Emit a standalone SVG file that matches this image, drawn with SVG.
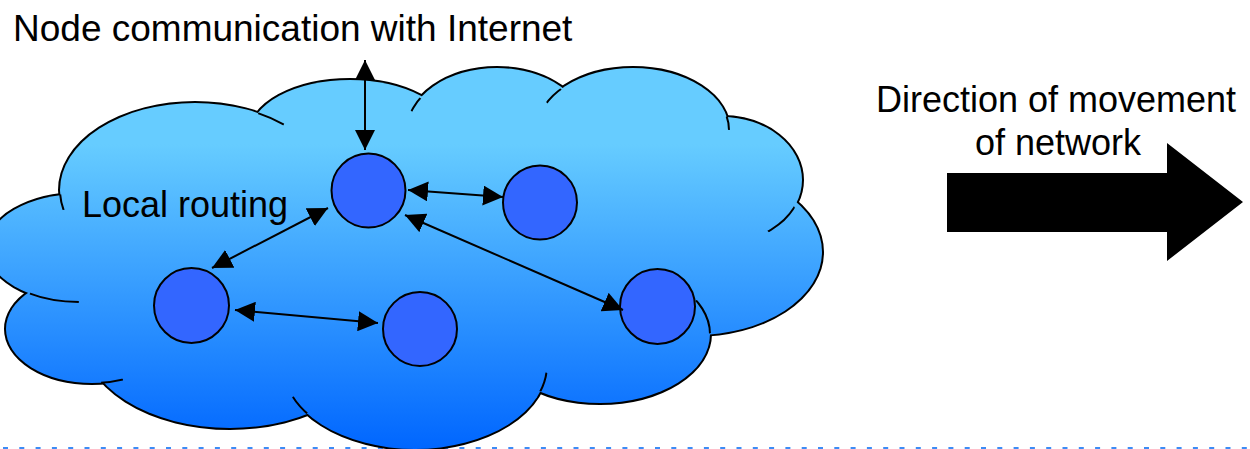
<svg xmlns="http://www.w3.org/2000/svg" width="1250" height="449" viewBox="0 0 1250 449">
  <defs>
    <linearGradient id="cg" gradientUnits="userSpaceOnUse" x1="0" y1="68" x2="0" y2="449">
      <stop offset="0" stop-color="#66CCFF"/>
      <stop offset="0.2" stop-color="#66CCFF"/>
      <stop offset="1" stop-color="#0066FF"/>
    </linearGradient>
    <marker id="ah" viewBox="0 0 10 10" refX="10" refY="5" markerWidth="10" markerHeight="10" orient="auto-start-reverse" markerUnits="strokeWidth">
      <path d="M0,0 L10,5 L0,10 z" fill="#000"/>
    </marker>
    <ellipse id="lA" cx="195" cy="190" rx="135" ry="87"/>
    <ellipse id="lB" cx="350" cy="134" rx="100" ry="54"/>
    <ellipse id="lC" cx="497" cy="131" rx="90" ry="63"/>
    <ellipse id="lD" cx="633" cy="130" rx="96" ry="62"/>
    <ellipse id="lE" cx="722" cy="180" rx="80" ry="63"/>
    <ellipse id="lF" cx="695" cy="252" rx="127" ry="83"/>
    <ellipse id="lG" cx="600" cy="334" rx="110" ry="69"/>
    <ellipse id="lH" cx="415" cy="365" rx="132" ry="84"/>
    <ellipse id="lI" cx="230" cy="335" rx="147" ry="93"/>
    <ellipse id="lJ" cx="92" cy="329" rx="86" ry="54"/>
    <ellipse id="lK" cx="80" cy="248" rx="93" ry="54"/>
    <clipPath id="s1"><circle cx="63" cy="202" r="8"/></clipPath>
    <clipPath id="s2"><circle cx="271" cy="119" r="14"/></clipPath>
    <clipPath id="s3"><circle cx="415" cy="104" r="8"/></clipPath>
    <clipPath id="s4"><circle cx="554" cy="96" r="10"/></clipPath>
    <clipPath id="s5"><circle cx="729" cy="123" r="7"/></clipPath>
    <clipPath id="s6"><circle cx="781" cy="219" r="18"/></clipPath>
    <clipPath id="s7"><circle cx="705" cy="316" r="18"/></clipPath>
    <clipPath id="s8"><circle cx="543" cy="382" r="10"/></clipPath>
    <clipPath id="s9"><circle cx="299" cy="406" r="11"/></clipPath>
    <clipPath id="s10"><circle cx="112" cy="381" r="11"/></clipPath>
    <clipPath id="s11"><circle cx="54" cy="300" r="25"/></clipPath>
  </defs>
  <style>
    .outline use { fill: none; stroke: #000; stroke-width: 4; }
    .fill use, .fill ellipse { fill: url(#cg); stroke: none; }
    .stub use { fill: none; stroke: #000; stroke-width: 2; }
    .node circle { fill: #3366FF; stroke: #000; stroke-width: 2; }
    .conn line { stroke: #000; stroke-width: 2; marker-start: url(#ah); marker-end: url(#ah); }
    .lbl { font-family: "Liberation Sans", Arial, sans-serif; fill: #000; }
  </style>

  <line x1="3" y1="448" x2="1250" y2="448" stroke="#3D8BF5" stroke-width="2" stroke-dasharray="5 11.3"/>

  <g id="cloud">
    <g class="outline">
      <use href="#lA"/><use href="#lB"/><use href="#lC"/><use href="#lD"/>
      <use href="#lE"/><use href="#lF"/><use href="#lG"/><use href="#lH"/>
      <use href="#lI"/><use href="#lJ"/><use href="#lK"/>
    </g>
    <g class="fill">
      <ellipse cx="410" cy="250" rx="330" ry="130"/>
      <use href="#lA"/><use href="#lB"/><use href="#lC"/><use href="#lD"/>
      <use href="#lE"/><use href="#lF"/><use href="#lG"/><use href="#lH"/>
      <use href="#lI"/><use href="#lJ"/><use href="#lK"/>
    </g>
    <g class="stub">
      <use href="#lA" clip-path="url(#s1)"/>
      <use href="#lA" clip-path="url(#s2)"/>
      <use href="#lC" clip-path="url(#s3)"/>
      <use href="#lD" clip-path="url(#s4)"/>
      <use href="#lD" clip-path="url(#s5)"/>
      <use href="#lE" clip-path="url(#s6)"/>
      <use href="#lG" clip-path="url(#s7)"/>
      <use href="#lH" clip-path="url(#s8)"/>
      <use href="#lH" clip-path="url(#s9)"/>
      <use href="#lJ" clip-path="url(#s10)"/>
      <use href="#lK" clip-path="url(#s11)"/>
    </g>
  </g>

  <text class="lbl" x="82" y="217" font-size="36">Local routing</text>

  <g id="node1" class="node"><circle cx="368.5" cy="190.5" r="37"/></g>
  <g id="node2" class="node"><circle cx="540" cy="202.5" r="37"/></g>
  <g id="node3" class="node"><circle cx="191.5" cy="305.5" r="37.5"/></g>
  <g id="node4" class="node"><circle cx="420" cy="329" r="37"/></g>
  <g id="node5" class="node"><circle cx="657.5" cy="306.5" r="37.5"/></g>

  <g id="connectors" class="conn">
    <line x1="365" y1="60" x2="365" y2="150"/>
    <line x1="408" y1="190" x2="503" y2="197"/>
    <line x1="405" y1="215" x2="623" y2="310"/>
    <line x1="212" y1="268" x2="328" y2="208"/>
    <line x1="235" y1="310" x2="378" y2="323"/>
  </g>

  <g id="title">
    <text class="lbl" x="13" y="41" font-size="37">Node communication with Internet</text>
  </g>

  <g id="direction">
    <polygon points="947,173 1167,173 1167,143 1243,202 1167,261 1167,232 947,232" fill="#000"/>
    <text class="lbl" x="1056" y="112" font-size="36" text-anchor="middle">Direction of movement</text>
    <text class="lbl" x="1058" y="155" font-size="36" text-anchor="middle">of network</text>
  </g>
</svg>
